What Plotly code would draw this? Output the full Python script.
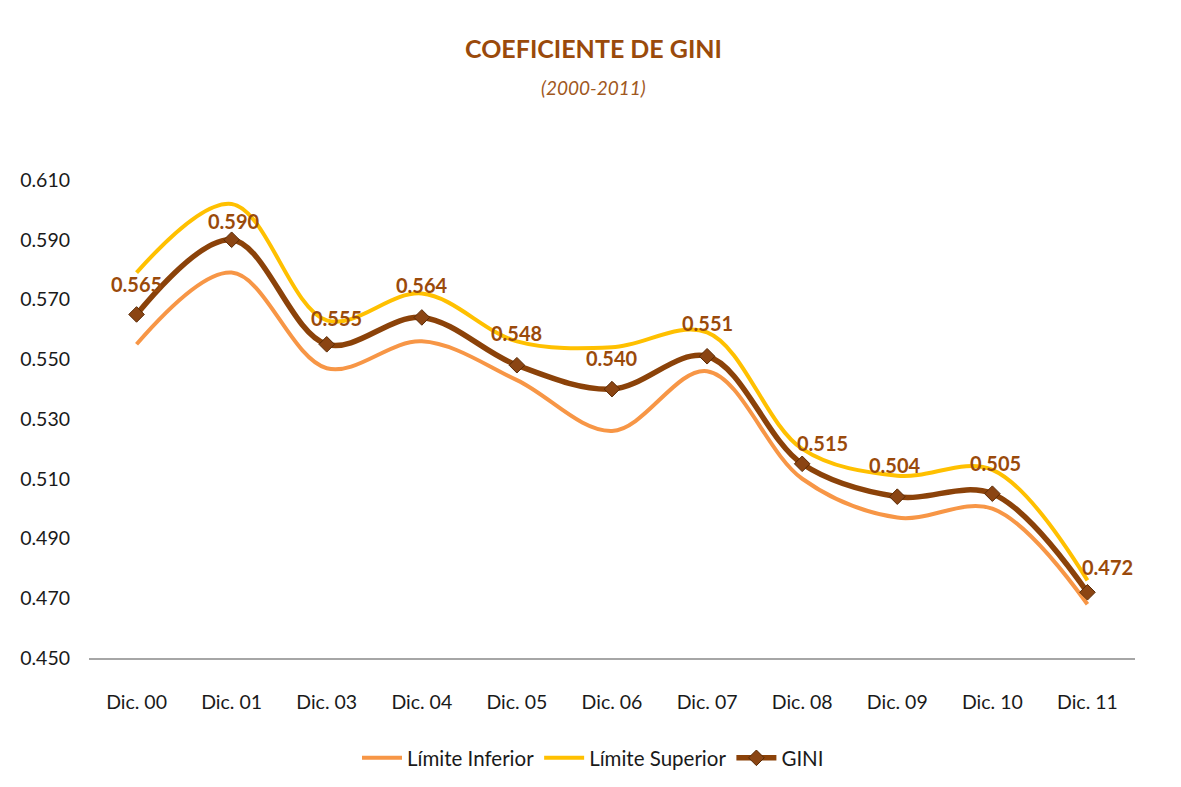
import plotly.graph_objects as go

categories = ["Dic. 00", "Dic. 01", "Dic. 03", "Dic. 04", "Dic. 05", "Dic. 06",
              "Dic. 07", "Dic. 08", "Dic. 09", "Dic. 10", "Dic. 11"]
limite_inferior = [0.555, 0.579, 0.547, 0.556, 0.543, 0.526, 0.546, 0.510, 0.497, 0.500, 0.468]
limite_superior = [0.579, 0.602, 0.563, 0.572, 0.556, 0.554, 0.559, 0.520, 0.511, 0.513, 0.476]
gini = [0.565, 0.590, 0.555, 0.564, 0.548, 0.540, 0.551, 0.515, 0.504, 0.505, 0.472]
y_ticks = [0.450, 0.470, 0.490, 0.510, 0.530, 0.550, 0.570, 0.590, 0.610]

# label placement offsets (pixels), style only
label_dx = [0, 2, 10, 0, 0, 0, 0, 20, -2, 3, 20]
label_dy = [30, 19, 26, 32, 32, 31, 33, 21, 32, 31, 25]

FONT = "Lato, 'Open Sans', sans-serif"
BROWN = "#9A4A0B"

W, H = 1165, 771
ML, MR, MT, MB = 79, 38, 172, 121
plot_h = H - MT - MB
plot_w = W - ML - MR

fig = go.Figure()
fig.add_trace(go.Scatter(
    x=categories, y=limite_inferior, name="Límite Inferior", mode="lines",
    line=dict(color="#F79646", width=4, shape="spline", smoothing=1.0),
))
fig.add_trace(go.Scatter(
    x=categories, y=limite_superior, name="Límite Superior", mode="lines",
    line=dict(color="#FFC000", width=4, shape="spline", smoothing=1.0),
))
fig.add_trace(go.Scatter(
    x=categories, y=gini, name="GINI", mode="lines+markers",
    line=dict(color="#8B4209", width=5.5, shape="spline", smoothing=1.0),
    marker=dict(symbol="diamond", size=12, color="#8B4513",
                line=dict(color="#5A2A05", width=1)),
))

# data labels above GINI points
for c, v, dx, dy in zip(categories, gini, label_dx, label_dy):
    fig.add_annotation(x=c, y=v, text=f"<b>{v:.3f}</b>", showarrow=False,
                       xshift=dx, yshift=dy,
                       font=dict(family=FONT, size=20, color=BROWN))

fig.update_layout(
    width=W, height=H,
    paper_bgcolor="white", plot_bgcolor="white",
    margin=dict(l=ML, r=MR, t=MT, b=MB),
    font=dict(family=FONT, size=19.5, color="#1a1a1a"),
    showlegend=True,
    legend=dict(orientation="h", xref="container", yref="container",
                x=(593 - 8) / W, xanchor="center",
                y=1 - (758 - 8) / H, yanchor="middle",
                font=dict(family=FONT, size=20.5, color="#1a1a1a"),
                itemwidth=40),
)
title_x = (584 - ML) / plot_w
fig.add_annotation(text="<b>COEFICIENTE DE GINI</b>", xref="paper", yref="paper",
                   x=title_x, y=1 + (MT - 40) / plot_h, showarrow=False,
                   font=dict(family=FONT, size=25, color=BROWN),
                   xanchor="center", yanchor="middle")
fig.add_annotation(text="<i>(2000-2011)</i>", xref="paper", yref="paper",
                   x=title_x, y=1 + (MT - 79) / plot_h, showarrow=False,
                   font=dict(family=FONT, size=19, color="#A0581E"),
                   xanchor="center", yanchor="middle")

fig.update_xaxes(range=[-0.5, len(categories) - 0.5],
                 showgrid=False, showline=True, linecolor="#A6A6A6", linewidth=1.5,
                 ticks="", tickfont=dict(family=FONT, size=19.5, color="#1a1a1a"),
                 zeroline=False, ticklabelstandoff=26)
fig.update_yaxes(range=[0.45, 0.61], tickvals=y_ticks,
                 ticktext=[f"{v:.3f}" for v in y_ticks],
                 showgrid=False, showline=False, zeroline=False, ticks="",
                 tickfont=dict(family=FONT, size=19.5, color="#1a1a1a"),
                 ticklabelstandoff=18)

fig.write_html("out.html")
